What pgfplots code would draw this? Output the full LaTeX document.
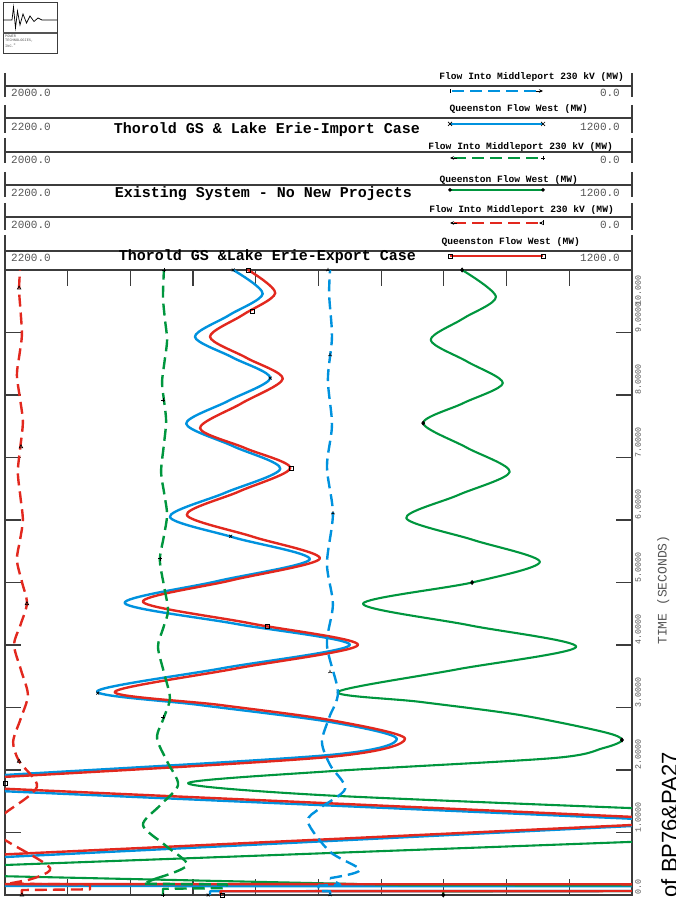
\documentclass[border=0pt]{standalone}
\usepackage{fontspec}
\setmainfont{Liberation Mono}
\newfontfamily\sansf{Liberation Sans}
\usepackage{pgfplots}
\pgfplotsset{compat=1.18}
\usetikzlibrary{arrows.meta}
\definecolor{cblue}{RGB}{0,146,222}
\definecolor{cgreen}{RGB}{0,150,62}
\definecolor{cred}{RGB}{226,40,30}
\definecolor{frm}{RGB}{60,60,60}
\definecolor{num}{RGB}{85,85,85}
\tikzset{
 lbl/.style={font=\fontsize{9.6}{11}\selectfont\bfseries, inner sep=0, anchor=east},
 val/.style={font=\fontsize{11}{13}\selectfont, text=num, inner sep=0},
 ttl/.style={font=\fontsize{15}{17}\selectfont\bfseries, inner sep=0},
 tl/.style={font=\fontsize{8.3}{9}\selectfont, text=num, inner sep=0, rotate=90},
}
\pgfplotsset{
 solidc/.style={line width=2.4pt, line join=round, line cap=round},
 dashc/.style={line width=2.4pt, dash pattern=on 12pt off 6pt, line join=round},
 mk/.style={only marks, mark size=2pt, black, mark options={line width=0.7pt, solid}},
}
\begin{document}
\begin{tikzpicture}[x=1pt,y=1pt]
% ---------- Queenston axis
\begin{axis}[at={(5pt,9pt)}, anchor=south west, scale only axis, width=627pt, height=625pt,
 xmin=1200, xmax=2200, x dir=reverse, ymin=0, ymax=10,
 xtick={1300,1400,1500,1600,1700,1800,1900,2000,2100}, ytick={1,2,3,4,5,6,7,8,9},
 xticklabels={}, yticklabels={}, tick align=inside, major tick length=16pt,
 tick style={frm, line width=1.2pt}, axis line style={frm, line width=1.3pt}, clip=true]
% blue solid (Import)
\addplot[cblue, solidc] coordinates {(1873,0) (1873,0.06) (900,0.065) (900,0.14) (2500,0.145) (2500,0.55) (2200,0.608) (1200,1.104) (1000,1.15) (1000,1.18) (1200,1.22) (2200,1.66) (2400,1.74) (2400,1.80)};
\addplot[cblue, solidc, smooth] coordinates {(2400,1.80) (2200,1.92) (1682,2.24) (1575,2.50) (1682,2.77) (1889,3.04) (2053,3.26) (1852,3.63) (1650,4.0) (1830,4.335) (2009,4.67) (1862,5.02) (1714,5.37) (1835,5.72) (1937,6.05) (1849,6.435) (1761,6.82) (1836,7.18) (1911,7.54) (1844,7.905) (1777,8.27) (1837,8.6) (1897,8.93) (1843,9.275) (1789,9.62) (1836,10)};
% green solid (Existing)
\addplot[cgreen, solidc, line width=2.1pt] coordinates {(1501,0) (1501,0.06) (1000,0.065) (1000,0.15) (1570,0.16) (2200,0.30) (2500,0.36) (2500,0.42) (2200,0.48) (1200,0.85) (1000,0.90) (1000,1.32) (1200,1.39)};
\addplot[cgreen, solidc, line width=2.1pt, smooth] coordinates {(1200,1.39) (1698,1.60) (1908,1.79) (1682,1.98) (1326,2.19) (1246,2.35) (1216,2.48) (1246,2.61) (1379,2.88) (1538,3.09) (1669,3.25) (1479,3.61) (1289,3.97) (1459,4.315) (1629,4.66) (1455,5.0) (1347,5.33) (1453,5.68) (1560,6.03) (1477,6.40) (1395,6.77) (1464,7.16) (1533,7.55) (1469,7.87) (1406,8.19) (1463,8.535) (1521,8.88) (1469,9.225) (1417,9.57) (1471,10)};
% red solid (Export)
\addplot[cred, solidc] coordinates {(1856,0) (1856,0.06) (900,0.065) (900,0.17) (2500,0.176) (2500,0.6) (2200,0.65) (1200,1.12) (1000,1.17) (1000,1.2) (1200,1.25) (2200,1.70) (2400,1.78) (2400,1.80)};
\addplot[cred, solidc, smooth] coordinates {(2400,1.80) (2200,1.89) (1682,2.21) (1562,2.50) (1682,2.80) (1857,3.04) (2025,3.25) (1831,3.625) (1637,4.0) (1808,4.345) (1980,4.69) (1839,5.035) (1698,5.38) (1804,5.73) (1910,6.08) (1827,6.455) (1745,6.83) (1817,7.15) (1889,7.47) (1823,7.865) (1757,8.26) (1815,8.595) (1873,8.93) (1821,9.28) (1769,9.63) (1812,10)};
% markers
\addplot[mk, mark=x] coordinates {(1876,0) (2052,3.23) (1840,5.74) (1777,8.27) (1836,10)};
\addplot[mk, mark=diamond*] coordinates {(1501,0) (1216,2.48) (1455,5.0) (1533,7.55) (1471,10)};
\addplot[mk, mark=square] coordinates {(1854,0) (2200,1.79) (1781,4.3) (1744,6.83) (1806,9.34) (1812,10)};
\end{axis}
% ---------- Middleport axis
\begin{axis}[at={(5pt,9pt)}, anchor=south west, scale only axis, width=627pt, height=625pt,
 xmin=0, xmax=2000, x dir=reverse, ymin=0, ymax=10, hide axis, clip=true]
\addplot[cblue, dashc] coordinates {(963,0) (963,0.06) (1000,0.065) (1000,0.15) (930,0.16) (963,0.27)};
\addplot[cblue, dashc, smooth] coordinates {(963,0.27) (868,0.40) (963,0.69) (1034,1.17) (995,1.39) (915,1.70) (963,2.08) (989,2.45) (965,2.85) (938,3.25) (973,4.0) (954,4.65) (973,5.3) (954,6.1) (973,6.85) (957,7.52) (970,8.25) (957,8.93) (966,9.6) (963,10)};
\addplot[cgreen, dashc] coordinates {(1496,0) (1496,0.1) (1292,0.11) (1292,0.17) (1560,0.18) (1515,0.27)};
\addplot[cgreen, dashc, smooth] coordinates {(1515,0.27) (1419,0.48) (1490,0.80) (1560,1.12) (1504,1.44) (1448,1.76) (1482,2.13) (1515,2.51) (1494,2.83) (1474,3.15) (1493,3.56) (1512,3.97) (1496,4.26) (1480,4.55) (1493,4.95) (1506,5.36) (1494,5.72) (1483,6.08) (1492,6.42) (1502,6.77) (1494,7.17) (1486,7.57) (1492,7.88) (1499,8.2) (1491,8.54) (1483,8.88) (1490,9.22) (1496,9.57) (1493,10)};
\addplot[cred, dashc] coordinates {(1946,0) (1946,0.08) (1729,0.09) (1729,0.17) (1990,0.18) (1927,0.24)};
\addplot[cred, dashc, smooth] coordinates {(1927,0.24) (1856,0.43) (1990,0.85) (2060,1.08) (2000,1.31) (1898,1.73) (1955,2.14) (1974,2.45) (1950,2.82) (1927,3.2) (1949,3.6) (1971,4.0) (1950,4.33) (1930,4.67) (1946,5.01) (1962,5.36) (1952,5.68) (1943,6.0) (1951,6.38) (1959,6.77) (1951,7.17) (1943,7.57) (1952,7.94) (1962,8.32) (1954,8.64) (1946,8.96) (1950,9.32) (1955,9.68) (1952,10)};
\addplot[mk, mark=Mercedes star] coordinates {(963,0) (963,3.57) (954,6.11) (963,8.64) (970,10)};
\addplot[mk, mark=+] coordinates {(1496,0) (1496,2.85) (1506,5.38) (1496,7.92) (1493,10)};
\addplot[mk, mark=triangle] coordinates {(1946,0) (1955,2.14) (1930,4.66) (1949,7.17) (1955,9.71)};
\end{axis}
% ---------- logo
\draw[frm, line width=0.8pt] (3,902) rectangle (57,851);
\draw[num, line width=2pt] (3,871) -- (57,871);
\draw[black, line width=0.7pt] (3,884) -- (12,884) -- (13.5,897) -- (15.5,876) -- (17.5,893) -- (20,879) -- (23,890) -- (26.5,881) -- (30,888) -- (34,882.5) -- (38,886) -- (42,884) -- (57,884);
\node[font=\fontsize{3.6}{4.2}\selectfont, text=num, anchor=north west, inner sep=0, align=left] at (5,869) {POWER\\TECHNOLOGIES,\\INC.\textsuperscript{\textregistered}};
% ---------- header rows
\foreach \yl/\ya/\yb in {818/831/807, 786/799/771, 752/766/741, 719/732/707, 687/701/674, 653/669/634}{
  \draw[frm, line width=1.1pt] (5,\yl) -- (632,\yl);
  \draw[frm, line width=1.1pt] (5,\ya) -- (5,\yb) (632,\ya) -- (632,\yb);
}
\node[lbl] at (624,827) {Flow Into Middleport 230 kV (MW)};
\node[lbl] at (588,795) {Queenston Flow West (MW)};
\node[lbl] at (613,757) {Flow Into Middleport 230 kV (MW)};
\node[lbl] at (578,724) {Queenston Flow West (MW)};
\node[lbl] at (614,694) {Flow Into Middleport 230 kV (MW)};
\node[lbl] at (580,662) {Queenston Flow West (MW)};
\foreach \y/\l/\r in {811/2000.0/0.0, 777/2200.0/1200.0, 744/2000.0/0.0, 711/2200.0/1200.0, 679/2000.0/0.0, 646/2200.0/1200.0}{
  \node[val, anchor=west] at (11,\y) {\l};
  \node[val, anchor=east] at (620,\y) {\r};
}
\node[ttl] at (267,774) {Thorold GS \& Lake Erie-Import Case};
\node[ttl] at (263.5,710) {Existing System - No New Projects};
\node[ttl] at (267.5,647) {Thorold GS \&Lake Erie-Export Case};
% legend samples
\draw[cblue, line width=2.4pt, dash pattern=on 12pt off 6pt] (452,813) -- (538,813);
\draw[black, line width=0.6pt, -{Stealth[length=4pt,width=3.5pt]}] (536,813) -- (543,813);
\draw[black, line width=0.6pt] (450,811) -- (450,815);
\draw[cblue, line width=2.4pt] (450,780) -- (543,780);
\draw[black, line width=0.7pt] (448,778) -- (452,782) (448,782) -- (452,778) (541,778) -- (545,782) (541,782) -- (545,778);
\draw[cgreen, line width=2.4pt, dash pattern=on 12pt off 6pt] (454,746) -- (540,746);
\draw[black, line width=0.6pt, -{Stealth[length=4pt,width=3.5pt]}] (457,746) -- (450,746);
\draw[black, line width=0.7pt] (541,746) -- (545,746) (543,744) -- (543,748);
\draw[cgreen, line width=2.2pt] (450,714) -- (543,714);
\fill[black] (450,716) -- (452,714) -- (450,712) -- (448,714) -- cycle (543,716) -- (545,714) -- (543,712) -- (541,714) -- cycle;
\draw[cred, line width=2.4pt, dash pattern=on 12pt off 6pt] (454,681) -- (538,681);
\draw[black, line width=0.6pt, -{Stealth[length=4pt,width=3.5pt]}] (457,681) -- (450,681);
\draw[black, line width=0.6pt, -{Stealth[length=4pt,width=3.5pt]}] (540,681) -- (539,681);
\draw[black, line width=0.6pt] (543,678.5) -- (543,683.5);
\draw[cred, line width=2.4pt] (450,648) -- (543,648);
\draw[black, line width=0.6pt] (448,646) rectangle (452,650) (541,646) rectangle (545,650);
% ---------- time labels
\foreach \t/\s in {0/0.0,1/1.0000,2/2.0000,3/3.0000,4/4.0000,5/5.0000,6/6.0000,7/7.0000,8/8.0000,9/9.0000}{
  \node[tl, anchor=north west] at (635,{9+62.5*\t}) {\s};
}
\node[tl, anchor=north east] at (635,629) {10.000};
\node[font=\fontsize{13}{15}\selectfont, text=num, inner sep=0, rotate=90, anchor=north west] at (657,259) {TIME (SECONDS)};
\begin{scope}
\clip (0,0) rectangle (675,904);
\node[font=\sansf\fontsize{22}{26}\selectfont, inner sep=0, rotate=90, anchor=base east] at (677,152) {of BP76\&PA27};
\end{scope}
\pgfresetboundingbox
\path[use as bounding box] (0,0) rectangle (675,904);
\end{tikzpicture}
\end{document}
